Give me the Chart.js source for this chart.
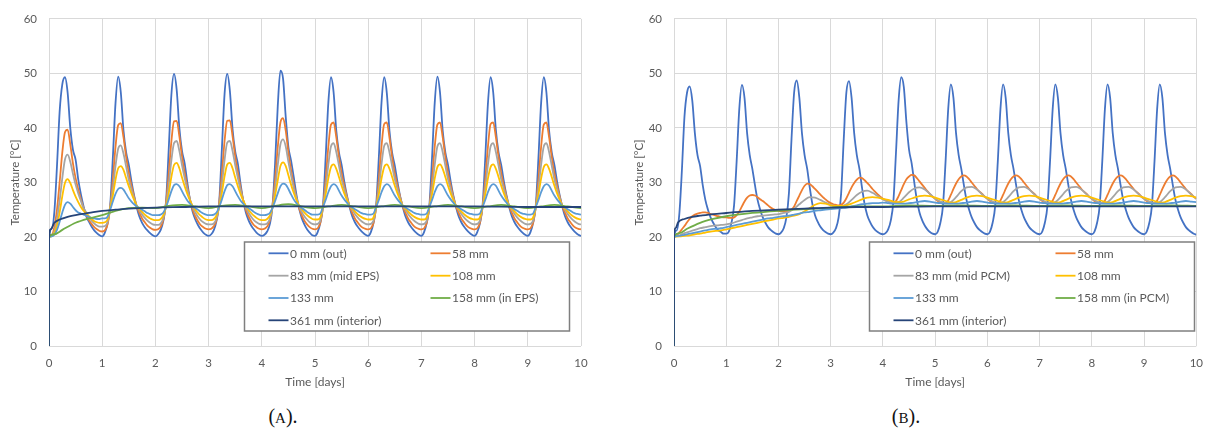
<!DOCTYPE html>
<html>
<head>
<meta charset="utf-8">
<script src="https://cdn.jsdelivr.net/npm/chart.js@4.4.1/dist/chart.umd.min.js"></script>
<style>
  body { margin: 0; background: #fff; width: 1213px; height: 432px; position: relative; overflow: hidden; }
  canvas { position: absolute; top: 0; }
  #chartA { left: 0; }
  #chartB { left: 624px; }
  .caption { position: absolute; top: 405px; font-family: "Liberation Serif", serif; font-size: 20px; color: #111; transform: translateX(-50%); }
  .caption span { font-size: 15px; }
</style>
</head>
<body>
<canvas id="chartA" width="600" height="400"></canvas>
<canvas id="chartB" width="589" height="400"></canvas>
<div class="caption" style="left:283px">(<span>A</span>).</div>
<div class="caption" style="left:906px">(<span>B</span>).</div>
<script>
// Axis ticks
const dayTicks = [0, 1, 2, 3, 4, 5, 6, 7, 8, 9, 10];
const tempTicks = [0, 10, 20, 30, 40, 50, 60];

// Series names and colours (same order in both panels)
const labelsA = ['0 mm (out)', '58 mm', '83 mm (mid EPS)', '108 mm', '133 mm', '158 mm (in EPS)', '361 mm (interior)'];
const labelsB = ['0 mm (out)', '58 mm', '83 mm (mid PCM)', '108 mm', '133 mm', '158 mm (in PCM)', '361 mm (interior)'];
const colors = ['#4472C4', '#ED7D31', '#A5A5A5', '#FFC000', '#5B9BD5', '#70AD47', '#264478'];

// time grids: first point is t=0 (0 °C), then the jump to 20 °C, then regular samples
function timeGrid(step) {
    const t = [0, 0.002];
    const n = Math.round(10 / step);
    for (let i = 1; i <= n; i++) t.push(+(i * step).toFixed(3));
    return t;
}
const t05 = timeGrid(0.05);
const t10 = timeGrid(0.1);

// ---- (A) EPS wall, values every 0.05 day ----
const aOut = [0,
    20.0,21.5,24.5,33.0,43.0,48.0,49.3,46.5,40.0,36.0,34.2,30.5,27.8,25.6,23.8,22.8,21.9,21.2,20.7,20.3,
    20.1,20.8,22.5,25.8,34.5,44.5,49.4,46.5,39.5,35.5,33.2,30.2,27.6,25.4,23.7,22.6,21.8,21.2,20.7,20.3,
    20.1,20.5,21.3,23.0,26.5,36.0,46.0,49.9,47.0,40.0,35.8,33.5,30.0,26.8,24.6,23.2,22.2,21.4,20.8,20.4,
    20.2,20.5,21.3,23.0,26.5,36.2,46.2,49.9,46.8,39.8,35.7,33.4,29.8,26.7,24.5,23.1,22.1,21.4,20.8,20.4,
    20.2,20.4,21.0,22.3,25.5,33.5,44.0,50.5,49.0,42.0,36.5,34.0,31.0,27.8,25.3,23.5,22.3,21.4,20.8,20.3,
    20.2,20.9,22.6,25.8,34.5,44.5,49.3,46.5,39.5,35.5,33.2,30.2,27.6,25.5,23.8,22.7,21.9,21.3,20.8,20.4,
    20.2,20.9,22.6,25.9,34.6,44.6,49.3,46.4,39.4,35.4,33.1,30.1,27.5,25.5,23.8,22.7,21.9,21.3,20.8,20.4,
    20.2,20.9,22.6,25.8,34.5,44.5,49.4,46.5,39.5,35.5,33.2,30.2,27.6,25.5,23.8,22.7,21.9,21.3,20.8,20.4,
    20.2,20.9,22.5,25.8,34.4,44.4,49.3,46.5,39.6,35.5,33.2,30.2,27.6,25.5,23.8,22.7,21.9,21.3,20.8,20.4,
    20.2,20.9,22.6,25.8,34.5,44.5,49.3,46.5,39.5,35.5,33.2,30.2,27.6,25.5,23.8,22.7,21.9,21.3,20.8,20.4,
    20.2];
const a58 = [0,
    20.0,20.4,21.8,25.0,30.0,35.5,39.2,39.7,37.0,33.5,30.8,28.7,26.9,25.3,24.1,23.1,22.4,21.8,21.4,21.1,
    21.0,21.2,22.3,25.4,30.5,36.5,40.5,40.9,38.3,34.7,31.7,29.4,27.4,25.6,24.4,23.4,22.7,22.1,21.7,21.4,
    21.3,21.4,21.9,23.2,26.3,31.5,37.5,41.2,41.3,38.5,34.8,31.8,29.2,26.9,25.0,23.8,22.9,22.2,21.8,21.5,
    21.4,21.5,22.0,23.2,26.4,31.6,37.6,41.3,41.4,38.5,34.8,31.8,29.1,26.8,25.0,23.8,22.9,22.2,21.8,21.5,
    21.4,21.5,21.9,23.0,25.8,30.5,36.5,41.0,41.8,39.5,35.5,32.3,29.6,27.2,25.3,24.0,23.0,22.3,21.8,21.5,
    21.4,21.6,22.6,25.5,30.5,36.5,40.6,41.0,38.3,34.7,31.7,29.4,27.4,25.6,24.4,23.4,22.7,22.1,21.7,21.5,
    21.4,21.6,22.6,25.5,30.6,36.6,40.7,41.0,38.2,34.6,31.6,29.4,27.4,25.6,24.4,23.4,22.7,22.1,21.7,21.5,
    21.4,21.6,22.6,25.5,30.5,36.5,40.6,41.0,38.3,34.7,31.7,29.4,27.4,25.6,24.4,23.4,22.7,22.1,21.7,21.5,
    21.4,21.6,22.6,25.5,30.5,36.5,40.7,41.0,38.3,34.7,31.7,29.4,27.4,25.6,24.4,23.4,22.7,22.1,21.7,21.5,
    21.4,21.6,22.6,25.5,30.5,36.5,40.6,41.0,38.3,34.7,31.7,29.4,27.4,25.6,24.4,23.4,22.7,22.1,21.7,21.5,
    21.4];
const a83 = [0,
    20.0,20.2,21.0,23.2,26.7,30.8,34.2,35.1,33.8,31.6,29.6,28.0,26.6,25.3,24.5,23.7,23.0,22.5,22.1,21.9,
    21.9,22.0,22.7,25.3,28.8,33.0,36.2,36.8,35.3,32.9,30.5,28.7,27.1,25.7,24.9,24.1,23.5,23.0,22.6,22.3,
    22.2,22.2,22.5,23.5,25.8,29.5,34.0,37.2,37.6,35.8,33.2,30.8,28.7,26.9,25.4,24.5,23.7,23.1,22.7,22.4,
    22.3,22.3,22.5,23.5,25.8,29.6,34.1,37.3,37.6,35.8,33.2,30.8,28.6,26.8,25.4,24.5,23.7,23.1,22.7,22.4,
    22.3,22.3,22.5,23.3,25.5,28.8,33.2,37.0,37.9,36.6,33.8,31.3,29.0,27.2,25.6,24.6,23.8,23.2,22.7,22.4,
    22.3,22.4,23.0,25.5,28.9,33.2,36.6,37.2,35.6,33.1,30.6,28.8,27.1,25.7,25.0,24.2,23.6,23.1,22.7,22.4,
    22.3,22.4,23.0,25.5,28.9,33.3,36.7,37.2,35.5,33.0,30.6,28.8,27.1,25.7,25.0,24.2,23.6,23.1,22.7,22.4,
    22.3,22.4,23.0,25.5,28.9,33.2,36.6,37.2,35.6,33.1,30.6,28.8,27.1,25.7,25.0,24.2,23.6,23.1,22.7,22.4,
    22.3,22.4,23.0,25.5,28.9,33.2,36.6,37.2,35.6,33.1,30.6,28.8,27.1,25.7,25.0,24.2,23.6,23.1,22.7,22.4,
    22.3,22.4,23.0,25.5,28.9,33.2,36.6,37.2,35.6,33.1,30.6,28.8,27.1,25.7,25.0,24.2,23.6,23.1,22.7,22.4,
    22.3];
const a108 = [0,
    20.0,20.1,20.7,22.1,24.5,27.5,29.9,30.6,29.9,28.6,27.4,26.4,25.5,24.8,24.3,23.8,23.3,22.9,22.7,22.6,
    22.6,22.7,23.2,25.3,27.6,30.5,32.6,33.0,32.3,30.8,29.3,28.0,26.8,25.7,25.2,24.6,24.1,23.7,23.4,23.2,
    23.1,23.1,23.3,24.0,25.6,28.0,31.0,33.2,33.6,32.6,30.9,29.3,27.9,26.7,25.7,25.0,24.4,23.9,23.5,23.2,
    23.1,23.1,23.3,24.0,25.6,28.1,31.1,33.3,33.6,32.6,30.9,29.3,27.9,26.7,25.7,25.0,24.4,23.9,23.5,23.2,
    23.1,23.1,23.3,23.9,25.3,27.6,30.4,33.0,33.7,33.0,31.3,29.6,28.1,26.8,25.8,25.1,24.5,24.0,23.6,23.3,
    23.2,23.2,23.6,25.5,27.8,30.7,32.8,33.3,32.5,31.0,29.4,28.0,26.8,25.7,25.2,24.7,24.2,23.8,23.5,23.3,
    23.2,23.2,23.6,25.5,27.8,30.7,32.8,33.3,32.5,31.0,29.4,28.0,26.8,25.7,25.2,24.7,24.2,23.8,23.5,23.3,
    23.2,23.2,23.6,25.5,27.8,30.7,32.8,33.3,32.5,31.0,29.4,28.0,26.8,25.7,25.2,24.7,24.2,23.8,23.5,23.3,
    23.2,23.2,23.6,25.5,27.8,30.7,32.8,33.3,32.5,31.0,29.4,28.0,26.8,25.7,25.2,24.7,24.2,23.8,23.5,23.3,
    23.2,23.2,23.6,25.5,27.8,30.7,32.8,33.3,32.5,31.0,29.4,28.0,26.8,25.7,25.2,24.7,24.2,23.8,23.5,23.3,
    23.2];
const a133 = [0,
    20.0,20.1,20.4,21.3,22.8,24.5,25.9,26.4,26.1,25.5,24.9,24.5,24.3,24.1,23.9,23.7,23.5,23.4,23.3,23.3,
    23.4,23.4,23.7,25.0,26.5,27.9,28.8,29.0,28.7,27.9,27.1,26.5,26.0,25.6,25.3,25.0,24.7,24.4,24.2,24.0,
    24.0,24.0,24.1,24.5,25.5,26.9,28.4,29.5,29.7,29.3,28.4,27.5,26.7,26.1,25.6,25.3,25.0,24.6,24.3,24.1,
    24.0,24.0,24.1,24.5,25.5,26.9,28.4,29.5,29.7,29.3,28.4,27.5,26.7,26.1,25.6,25.3,25.0,24.6,24.3,24.1,
    24.0,24.0,24.1,24.4,25.3,26.6,28.0,29.3,29.8,29.6,28.8,27.8,26.9,26.2,25.7,25.3,25.0,24.6,24.3,24.1,
    24.1,24.1,24.3,25.5,26.8,28.2,29.3,29.7,29.4,28.5,27.6,26.9,26.3,25.7,25.4,25.1,24.8,24.5,24.3,24.2,
    24.1,24.1,24.3,25.5,26.8,28.2,29.3,29.7,29.4,28.5,27.6,26.9,26.3,25.7,25.4,25.1,24.8,24.5,24.3,24.2,
    24.1,24.1,24.3,25.5,26.8,28.2,29.3,29.7,29.4,28.5,27.6,26.9,26.3,25.7,25.4,25.1,24.8,24.5,24.3,24.2,
    24.1,24.1,24.3,25.5,26.8,28.2,29.3,29.7,29.4,28.5,27.6,26.9,26.3,25.7,25.4,25.1,24.8,24.5,24.3,24.2,
    24.1,24.1,24.3,25.5,26.8,28.2,29.3,29.7,29.4,28.5,27.6,26.9,26.3,25.7,25.4,25.1,24.8,24.5,24.3,24.2,
    24.1];
const a158Time = [0, 0.002, 0.1, 0.25, 0.5, 0.75, 1, 1.25, 1.5, 1.75, 2,
    2.25, 2.5, 2.75, 3, 3.25, 3.5, 3.75, 4, 4.25, 4.5, 4.75, 5, 5.25, 5.5, 5.75, 6,
    6.25, 6.5, 6.75, 7, 7.25, 7.5, 7.75, 8, 8.25, 8.5, 8.75, 9, 9.25, 9.5, 9.75, 10];
const a158 = [0, 20, 20.5, 21.3, 22.6, 23.4, 24.0, 24.8, 25.3, 25.4, 25.3,
    25.7, 25.9, 25.6, 25.3, 25.7, 25.9, 25.6, 25.3, 25.7, 26.0, 25.6, 25.3, 25.6, 25.9, 25.6, 25.3,
    25.6, 25.9, 25.6, 25.3, 25.6, 25.9, 25.6, 25.3, 25.6, 25.9, 25.6, 25.3, 25.6, 25.9, 25.6, 25.3];
const a361Time = [0, 0.002, 0.03, 0.1, 0.2, 0.35, 0.5, 0.75, 1, 1.25, 1.5, 2, 2.5, 3, 4, 5, 6, 7, 8, 9, 10];
const a361 = [0, 20, 21.4, 22.6, 23.2, 23.7, 24.0, 24.4, 24.8, 25.0, 25.2, 25.4, 25.5, 25.6, 25.6, 25.6, 25.6, 25.6, 25.6, 25.5, 25.5];

// ---- (B) PCM wall ----
const bOut = [0,
    20.0,21.2,24.0,32.0,42.0,46.5,47.6,45.0,39.0,35.0,33.0,29.5,26.8,25.0,23.6,22.6,21.8,21.2,20.9,20.6,
    20.6,21.0,22.6,25.8,34.0,43.5,47.9,45.5,39.0,35.0,32.5,29.5,26.8,25.0,23.6,22.6,21.8,21.3,20.9,20.6,
    20.5,20.8,21.6,23.5,28.0,38.0,46.5,48.7,45.5,39.0,35.0,32.5,29.0,26.0,24.0,22.8,21.9,21.3,20.9,20.6,
    20.5,20.8,21.6,23.5,28.0,38.0,46.5,48.6,45.5,39.0,35.0,32.5,29.0,26.0,24.0,22.8,21.9,21.3,20.9,20.6,
    20.5,20.7,21.4,23.0,26.5,35.5,45.0,49.3,47.5,41.0,36.0,33.5,30.0,26.8,24.5,23.1,22.1,21.4,20.9,20.6,
    20.5,21.0,22.6,25.8,34.0,43.5,48.0,45.5,39.0,35.0,32.5,29.5,26.8,25.0,23.6,22.6,21.8,21.3,20.9,20.6,
    20.5,21.0,22.6,25.8,34.0,43.5,48.0,45.5,39.0,35.0,32.5,29.5,26.8,25.0,23.6,22.6,21.8,21.3,20.9,20.6,
    20.5,21.0,22.6,25.8,34.0,43.5,48.0,45.5,39.0,35.0,32.5,29.5,26.8,25.0,23.6,22.6,21.8,21.3,20.9,20.6,
    20.5,21.0,22.6,25.8,34.0,43.5,48.0,45.5,39.0,35.0,32.5,29.5,26.8,25.0,23.6,22.6,21.8,21.3,20.9,20.6,
    20.5,21.0,22.6,25.8,34.0,43.5,48.0,45.5,39.0,35.0,32.5,29.5,26.8,25.0,23.6,22.6,21.8,21.3,20.9,20.6,
    20.4];
const b58 = [0,
    20.0,20.3,20.8,21.4,22.0,22.7,23.3,23.8,24.1,24.3,24.4,24.5,24.5,24.4,24.2,24.1,23.9,23.8,23.7,23.6,
    23.6,23.5,23.5,23.6,24.0,24.7,25.6,26.5,27.2,27.6,27.7,27.6,27.3,26.9,26.6,26.2,25.8,25.4,25.1,24.9,
    24.8,24.7,24.7,24.7,24.8,25.0,25.6,26.6,27.6,28.6,29.4,29.8,29.7,29.3,28.8,28.3,27.8,27.3,26.9,26.5,
    26.2,26.0,25.9,25.8,25.9,26.3,27.1,28.1,29.1,29.9,30.5,30.9,30.8,30.4,29.9,29.4,28.8,28.3,27.8,27.4,
    27.0,26.7,26.5,26.3,26.3,26.6,27.5,28.6,29.7,30.6,31.1,31.4,31.3,30.8,30.2,29.6,29.0,28.4,27.9,27.4,
    27.0,26.6,26.4,26.2,26.2,26.7,27.7,28.8,29.8,30.6,31.1,31.3,31.1,30.6,30.0,29.4,28.8,28.3,27.9,27.4,
    27.0,26.6,26.4,26.2,26.2,26.7,27.7,28.8,29.8,30.6,31.1,31.3,31.1,30.6,30.0,29.4,28.8,28.3,27.9,27.4,
    27.0,26.6,26.4,26.2,26.2,26.7,27.7,28.8,29.8,30.6,31.1,31.3,31.1,30.6,30.0,29.4,28.8,28.3,27.9,27.4,
    27.0,26.6,26.4,26.2,26.2,26.7,27.7,28.8,29.8,30.6,31.1,31.3,31.1,30.6,30.0,29.4,28.8,28.3,27.9,27.4,
    27.0,26.6,26.4,26.2,26.2,26.7,27.7,28.8,29.8,30.6,31.1,31.3,31.1,30.6,30.0,29.4,28.8,28.3,27.9,27.4,
    27.0];
// values every 0.1 day
const b83 = [0,
    20.0,20.3,20.7,21.0,21.3,21.6,21.8,22.0,22.1,22.2,
    22.3,22.5,22.8,23.1,23.4,23.6,23.8,23.9,24.0,24.1,
    24.2,24.4,24.6,25.2,26.0,26.8,27.3,27.2,26.8,26.3,
    25.9,25.7,25.7,26.0,26.8,27.7,28.3,28.5,28.1,27.5,
    26.9,26.5,26.3,26.4,27.2,28.2,28.9,29.1,28.7,27.9,
    27.0,26.5,26.2,26.4,27.3,28.4,29.1,29.2,28.7,27.8,
    27.0,26.5,26.2,26.4,27.3,28.4,29.1,29.2,28.7,27.8,
    27.0,26.5,26.2,26.4,27.3,28.4,29.1,29.2,28.7,27.8,
    27.0,26.5,26.2,26.4,27.3,28.4,29.1,29.2,28.7,27.8,
    27.0,26.5,26.2,26.4,27.3,28.4,29.1,29.2,28.7,27.8,
    27.0];
const b108 = [0,
    20.0,20.1,20.2,20.3,20.5,20.6,20.8,21.0,21.1,21.2,
    21.4,21.6,21.8,22.0,22.2,22.4,22.6,22.8,23.0,23.2,
    23.4,23.5,23.7,23.9,24.2,24.7,25.3,25.9,26.2,26.1,
    25.8,25.7,25.7,25.8,26.1,26.5,26.9,27.2,27.3,27.2,
    27.0,26.8,26.5,26.4,26.5,26.9,27.2,27.5,27.6,27.5,
    27.2,26.9,26.6,26.3,26.4,26.8,27.2,27.5,27.6,27.5,
    27.2,26.9,26.6,26.3,26.4,26.8,27.2,27.5,27.6,27.5,
    27.2,26.9,26.6,26.3,26.4,26.8,27.2,27.5,27.6,27.5,
    27.2,26.9,26.6,26.3,26.4,26.8,27.2,27.5,27.6,27.5,
    27.2,26.9,26.6,26.3,26.4,26.8,27.2,27.5,27.6,27.5,
    27.2];
const b133 = [0,
    20.0,20.2,20.4,20.6,20.8,21.0,21.2,21.4,21.5,21.6,
    21.8,22.0,22.2,22.4,22.6,22.8,23.0,23.2,23.4,23.5,
    23.7,23.8,23.9,24.1,24.3,24.5,24.6,24.8,24.9,25.0,
    25.1,25.2,25.3,25.4,25.6,25.8,26.0,26.1,26.2,26.2,
    26.3,26.2,26.1,26.1,26.1,26.2,26.3,26.5,26.6,26.5,
    26.3,26.2,26.1,26.1,26.1,26.2,26.3,26.5,26.6,26.5,
    26.3,26.2,26.1,26.1,26.1,26.2,26.3,26.5,26.6,26.5,
    26.3,26.2,26.1,26.1,26.1,26.2,26.3,26.5,26.6,26.5,
    26.3,26.2,26.1,26.1,26.1,26.2,26.3,26.5,26.6,26.5,
    26.3,26.2,26.1,26.1,26.1,26.2,26.3,26.5,26.6,26.5,
    26.4];
const b158Time = [0, 0.002, 0.1, 0.25, 0.5, 0.75, 1, 1.5, 2, 2.5, 3, 3.5, 4, 4.5, 5, 5.5, 6, 6.5, 7, 7.5, 8, 8.5, 9, 9.5, 10];
const b158 = [0, 20, 20.7, 21.5, 22.6, 23.3, 23.8, 24.4, 24.8, 25.1, 25.4, 25.6, 25.6, 25.8, 25.7, 25.8, 25.7, 25.8, 25.7, 25.8, 25.7, 25.8, 25.7, 25.8, 25.7];
const b361Time = [0, 0.002, 0.03, 0.08, 0.2, 0.35, 0.5, 0.75, 1, 1.5, 2, 2.5, 3, 3.5, 4, 5, 6, 7, 8, 9, 10];
const b361 = [0, 20, 21.6, 22.7, 23.3, 23.7, 23.9, 24.2, 24.4, 24.8, 25.0, 25.2, 25.4, 25.5, 25.5, 25.6, 25.6, 25.6, 25.6, 25.6, 25.6];

const seriesA = [[t05, aOut], [t05, a58], [t05, a83], [t05, a108], [t05, a133], [a158Time, a158], [a361Time, a361]];
const seriesB = [[t05, bOut], [t05, b58], [t10, b83], [t10, b108], [t10, b133], [b158Time, b158], [b361Time, b361]];

const textGray = '#595959';
const fontFamily = 'Lato, "Liberation Sans", sans-serif';

// legend drawn as a framed box inside the plot, two columns
const boxLegend = {
    id: 'boxLegend',
    afterDatasetsDraw(chart, args, opts) {
        const { ctx, chartArea } = chart;
        const x = chartArea.left + opts.left;
        const y = opts.top;
        ctx.save();
        ctx.fillStyle = '#fff';
        ctx.fillRect(x, y, opts.width, opts.height);
        ctx.strokeStyle = '#7f7f7f';
        ctx.lineWidth = 1.5;
        ctx.strokeRect(x, y, opts.width, opts.height);
        ctx.font = '12px ' + fontFamily;
        ctx.textBaseline = 'middle';
        ctx.fillStyle = textGray;
        chart.data.datasets.forEach((ds, i) => {
            const lx = x + opts.colX[i % 2];
            const ly = y + opts.rowY[Math.floor(i / 2)];
            ctx.strokeStyle = ds.borderColor;
            ctx.lineWidth = 1.8;
            ctx.beginPath();
            ctx.moveTo(lx, ly);
            ctx.lineTo(lx + 20, ly);
            ctx.stroke();
            ctx.fillText(ds.label, lx + 21.5, ly + 0.5);
        });
        ctx.restore();
    }
};

function makeChart(id, series, labels, yWidth, yTitlePad, rightPad) {
    const datasets = series.map(([t, v], i) => ({
        label: labels[i],
        data: v.map((y, k) => ({ x: t[k], y })),
        borderColor: colors[i],
        borderWidth: 1.8,
        pointRadius: 0,
        cubicInterpolationMode: 'monotone',
        order: series.length - i
    }));
    return new Chart(document.getElementById(id), {
        type: 'line',
        data: { datasets },
        plugins: [boxLegend],
        options: {
            responsive: false,
            animation: false,
            layout: { padding: { top: 14, right: rightPad, bottom: 0, left: 0 } },
            plugins: {
                legend: { display: false },
                tooltip: { enabled: false },
                boxLegend: { left: 195.5, top: 242, width: 325, height: 89, colX: [24, 186], rowY: [11.3, 33.7, 56, 78.3] }
            },
            scales: {
                x: {
                    type: 'linear',
                    min: 0,
                    max: 10,
                    afterBuildTicks: s => { s.ticks = dayTicks.map(v => ({ value: v })); },
                    afterFit: s => { s.height = 54; },
                    grid: { color: '#d9d9d9', drawTicks: false },
                    border: { display: false },
                    ticks: { color: textGray, font: { family: fontFamily, size: 11.5 }, padding: 10, maxRotation: 0 },
                    title: { display: true, text: 'Time [days]', color: textGray, font: { family: fontFamily, size: 12 }, padding: { top: 0, bottom: 11 } }
                },
                y: {
                    min: 0,
                    max: 60,
                    afterBuildTicks: s => { s.ticks = tempTicks.map(v => ({ value: v })); },
                    afterFit: s => { s.width = yWidth; },
                    grid: { color: '#d9d9d9', drawTicks: false },
                    border: { display: false },
                    ticks: { color: textGray, font: { family: fontFamily, size: 11.5 }, padding: 12 },
                    title: { display: true, text: 'Temperature [°C]', color: textGray, font: { family: fontFamily, size: 11.5 }, padding: { top: yTitlePad, bottom: 0 } }
                }
            }
        }
    });
}

makeChart('chartA', seriesA, labelsA, 49, 8, 19);
makeChart('chartB', seriesB, labelsB, 50, 8, 9);
</script>
</body>
</html>
